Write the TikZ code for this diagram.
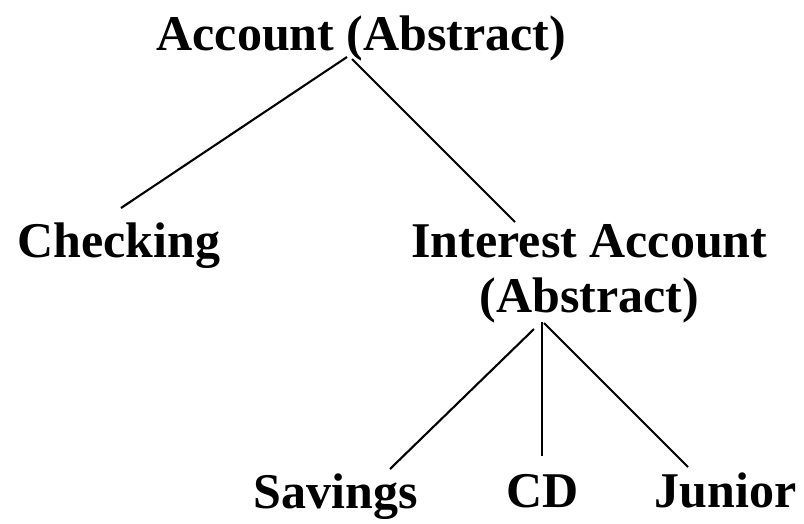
\documentclass[tikz,border=0pt]{standalone}
\usepackage{fontspec}
\setmainfont{Liberation Serif}
\usetikzlibrary{calc}
\begin{document}
\begin{tikzpicture}[x=1pt,y=-1pt,
  lbl/.style={font=\fontsize{50}{55}\selectfont\bfseries, inner sep=0pt, anchor=base, align=center},
  link/.style={line width=2.1pt, black}]
\useasboundingbox[fill=white] (0,0) rectangle (804,523);
\node[lbl] (acc) at (361.5,50) {Account (Abstract)};
\node[lbl] (chk) at (119,257) {Checking};
\node[lbl] (ia) at (589.5,312) {Interest Account\\(Abstract)};
\node[lbl] (sav) at (335.5,508) {Savings};
\node[lbl] (cd) at (542.5,507) {CD};
\node[lbl] (jun) at (725.5,507) {Junior};
\draw[link] ($(acc.base)+(-14.5,7)$) -- ($(chk.base)+(2,-49)$);
\draw[link] ($(acc.base)+(-9.5,9)$) -- ($(ia.base)+(-74.5,-90)$);
\draw[link] ($(ia.base)+(-55.5,17)$) -- ($(sav.base)+(54.5,-39)$);
\draw[link] ($(ia.base)+(-47.5,10)$) -- ($(cd.base)+(-0.5,-51)$);
\draw[link] ($(ia.base)+(-45.5,11)$) -- ($(jun.base)+(-37.5,-40)$);
\end{tikzpicture}
\end{document}
